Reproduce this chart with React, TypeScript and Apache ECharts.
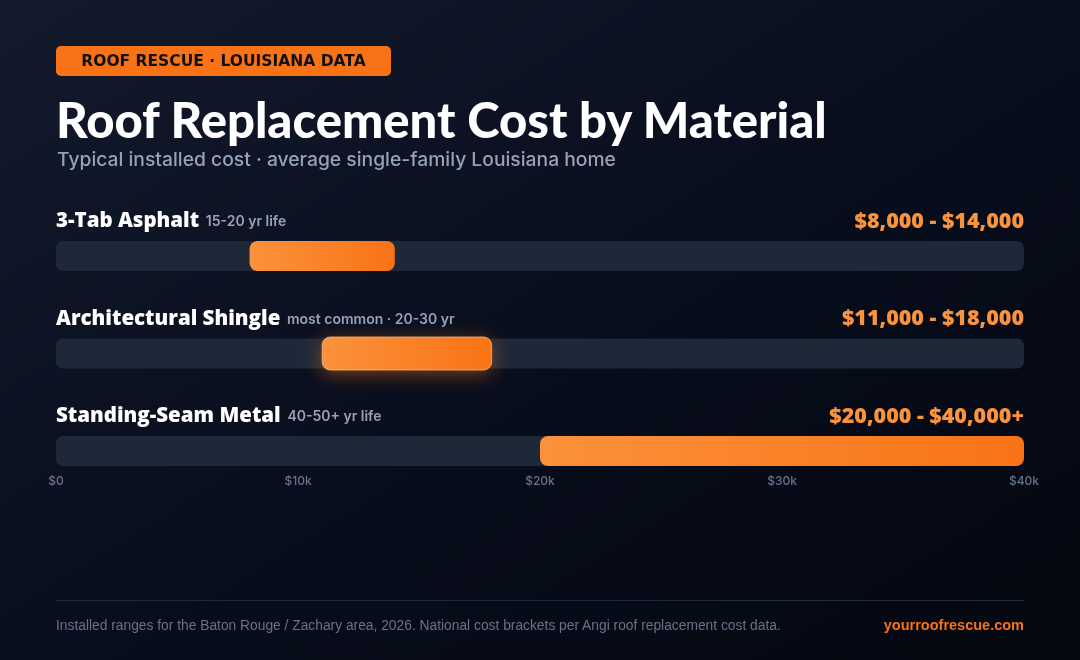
import React, { useEffect, useRef } from "react";
import * as echarts from "echarts";

const materials = ["3-Tab Asphalt", "Architectural Shingle", "Standing-Seam Metal"];
const notes = ["15-20 yr life", "most common · 20-30 yr", "40-50+ yr life"];
const lowCost = [8000, 11000, 20000];
const highCost = [14000, 18000, 40000];
const highSuffix = ["", "", "+"];
const highlighted = [false, true, false];
const xTicks = [0, 10000, 20000, 30000, 40000];
const AXIS_MAX = 40000;

const fmt = (v: number) => "$" + v.toLocaleString("en-US");
const fmtTick = (v: number) => (v === 0 ? "$0" : "$" + v / 1000 + "k");

const HEAD = "Lato, 'Noto Sans', sans-serif";
const LABEL = "'Open Sans', 'Noto Sans', sans-serif";
const BODY = "Inter, 'Noto Sans', sans-serif";

export default function App() {
  const ref = useRef<HTMLDivElement>(null);
  useEffect(() => {
    if (!ref.current) return;
    const chart = echarts.init(ref.current, undefined, { renderer: "svg" });
    const data = materials.map((_, i) => [lowCost[i], highCost[i], i]);
    const option: any = {
      animation: false,
      graphic: [
        {
          type: "rect",
          z: -10,
          silent: true,
          shape: { x: 0, y: 0, width: 1080, height: 660 },
          style: {
            fill: new echarts.graphic.LinearGradient(0, 0, 1, 1, [
              { offset: 0, color: "#121a2c" },
              { offset: 0.55, color: "#080d1c" },
              { offset: 1, color: "#04070f" },
            ]),
          },
        },
        {
          type: "rect",
          shape: { x: 56, y: 46, width: 335, height: 30, r: 5 },
          style: { fill: "#f97316" },
        },
        {
          type: "text",
          x: 223.5,
          y: 61,
          style: {
            text: "ROOF RESCUE · LOUISIANA DATA",
            fill: "#111111",
            font: "800 15.5px 'DejaVu Sans', sans-serif",
            align: "center",
            verticalAlign: "middle",
          },
        },
        {
          type: "text",
          x: 56,
          y: 119,
          style: {
            text: "Roof Replacement Cost by Material",
            fill: "#ffffff",
            font: "900 49px " + HEAD,
            verticalAlign: "middle",
          },
        },
        {
          type: "text",
          x: 57,
          y: 159,
          style: {
            text: "Typical installed cost · average single-family Louisiana home",
            fill: "#94a3b8",
            font: "500 19.3px " + BODY,
            verticalAlign: "middle",
          },
        },
        {
          type: "line",
          shape: { x1: 56, y1: 600.5, x2: 1024, y2: 600.5 },
          style: { stroke: "#1e293b", lineWidth: 1 },
        },
        {
          type: "text",
          x: 56,
          y: 625,
          style: {
            text: "Installed ranges for the Baton Rouge / Zachary area, 2026. National cost brackets per Angi roof replacement cost data.",
            fill: "#64748b",
            font: "400 13.8px 'Liberation Sans', sans-serif",
            verticalAlign: "middle",
          },
        },
        {
          type: "text",
          x: 1024,
          y: 625,
          style: {
            text: "yourroofrescue.com",
            fill: "#f97316",
            font: "700 14.5px 'Liberation Sans', sans-serif",
            align: "right",
            verticalAlign: "middle",
          },
        },
      ],
      grid: { left: 56, right: 56, top: 256, bottom: 209 },
      xAxis: {
        type: "value",
        min: 0,
        max: AXIS_MAX,
        interval: 10000,
        splitLine: { show: false },
        axisLine: { show: false },
        axisTick: { show: false },
        axisLabel: {
          margin: 23,
          color: "#64748b",
          fontFamily: BODY,
          fontSize: 12,
          fontWeight: 500,
          formatter: (v: number) => (xTicks.includes(v) ? fmtTick(v) : ""),
        },
      },
      yAxis: {
        type: "category",
        data: materials,
        inverse: true,
        boundaryGap: false,
        show: false,
      },
      series: [
        {
          type: "custom",
          data,
          clip: false,
          renderItem: (params: any, api: any) => {
            const lo = api.value(0);
            const hi = api.value(1);
            const idx = api.value(2);
            const i = params.dataIndex;
            const t0 = api.coord([0, idx]);
            const t1 = api.coord([AXIS_MAX, idx]);
            const b0 = api.coord([lo, idx]);
            const b1 = api.coord([hi, idx]);
            const cy = t0[1];
            const h = 30;
            const hl = highlighted[i];
            const bh = hl ? 33 : h;
            const grad = new echarts.graphic.LinearGradient(0, 0, 1, 0, [
              { offset: 0, color: "#fb923c" },
              { offset: 1, color: "#f97316" },
            ]);
            return {
              type: "group",
              children: [
                {
                  type: "rect",
                  shape: { x: t0[0], y: cy - h / 2, width: t1[0] - t0[0], height: h, r: 7 },
                  style: { fill: "#1f2839" },
                },
                {
                  type: "rect",
                  shape: { x: b0[0], y: cy - bh / 2, width: b1[0] - b0[0], height: bh, r: 8 },
                  style: hl
                    ? {
                        fill: grad,
                        stroke: "rgba(253,186,116,0.75)",
                        lineWidth: 1,
                        shadowBlur: 18,
                        shadowColor: "rgba(249,115,22,0.45)",
                        shadowOffsetY: 4,
                      }
                    : { fill: grad },
                },
                {
                  type: "text",
                  x: t0[0],
                  y: cy - 37,
                  style: {
                    text: "{a|" + materials[i] + "}  {b|" + notes[i] + "}",
                    verticalAlign: "middle",
                    rich: {
                      a: {
                        fill: "#ffffff",
                        fontSize: 20.5,
                        fontWeight: 800,
                        fontFamily: LABEL,
                      },
                      b: {
                        fill: "#94a3b8",
                        fontSize: 14,
                        fontWeight: 600,
                        fontFamily: BODY,
                        padding: [3, 0, 0, 0],
                      },
                    },
                  },
                },
                {
                  type: "text",
                  x: t1[0],
                  y: cy - 37,
                  style: {
                    text: fmt(lo) + " - " + fmt(hi) + highSuffix[i],
                    fill: "#fb923c",
                    font: "800 21.5px " + LABEL,
                    align: "right",
                    verticalAlign: "middle",
                  },
                },
              ],
            };
          },
        },
      ],
    };
    chart.setOption(option);
    return () => chart.dispose();
  }, []);
  return (
    <div
      ref={ref}
      style={{ position: "fixed", left: 0, top: 0, width: 1080, height: 660 }}
    />
  );
}
